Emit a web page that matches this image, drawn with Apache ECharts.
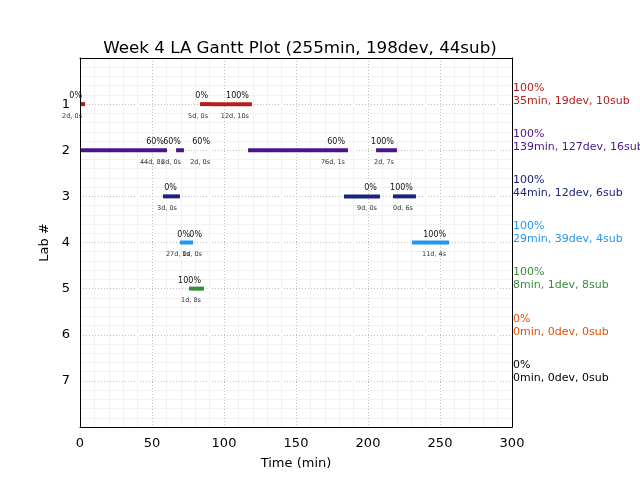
<!DOCTYPE html>
<html>
<head>
<meta charset="utf-8">
<script src="https://cdn.jsdelivr.net/npm/echarts@6/dist/echarts.min.js"></script>
<style>html,body{margin:0;padding:0;background:#fff}#c{width:640px;height:480px}</style>
</head>
<body>
<div id="c"></div>
<script>
// Data
var labs = [1, 2, 3, 4, 5, 6, 7];
var labColors = ['#b71c1c', '#4a148c', '#1a237e', '#2196f3', '#388e3c', '#e65100', '#000000'];
var labPct = ['100%', '100%', '100%', '100%', '100%', '0%', '0%'];
var labSummary = ['35min, 19dev, 10sub', '139min, 127dev, 16sub', '44min, 12dev, 6sub',
                  '29min, 39dev, 4sub', '8min, 1dev, 8sub', '0min, 0dev, 0sub', '0min, 0dev, 0sub'];
// segments: lab, start (min), end (min), percent label, duration label
var segLab   = [1, 1, 1, 2, 2, 2, 2, 2, 3, 3, 3, 4, 4, 4, 5];
var segStart = [0, 83.3, 91, 0, 66.7, 92.4, 116.7, 205.6, 57.6, 183.3, 217.4, 69.4, 86.8, 230.6, 75.7];
var segEnd   = [3.5, 91, 119.4, 60.4, 72.2, 92.4, 186.1, 220.1, 69.4, 208.3, 233.3, 78.5, 86.8, 256.3, 86.1];
var segPct   = ['0%', '0%', '100%', '60%', '60%', '60%', '60%', '100%', '0%', '0%', '100%', '0%', '0%', '100%', '100%'];
var segDur   = ['2d, 0s', '5d, 0s', '12d, 10s', '44d, 8s', '3d, 0s', '2d, 0s', '76d, 1s', '2d, 7s',
                '3d, 0s', '9d, 0s', '0d, 6s', '27d, 0s', '1d, 0s', '11d, 4s', '1d, 8s'];
var xTicks = [0, 50, 100, 150, 200, 250, 300];

var FONT = 'DejaVu Sans';
var GRID_C = '#c0c0c0';
var MINOR_C = '#f2f2f2';
var segData = segLab.map(function (l, i) { return [segStart[i], segEnd[i], l, i]; });
var labData = labs.map(function (l, i) { return [300, l, i]; });

var chart = echarts.init(document.getElementById('c'));
chart.setOption({
  animation: false,
  title: {
    text: 'Week 4 LA Gantt Plot (255min, 198dev, 44sub)',
    left: 295, top: 35, textAlign: 'center',
    textStyle: { fontFamily: FONT, fontSize: 16.7, fontWeight: 'normal', color: '#000' }
  },
  grid: { left: 80, right: 128, top: 58, bottom: 53, show: false },
  xAxis: [{
    type: 'value', min: xTicks[0], max: xTicks[xTicks.length - 1], interval: 50,
    name: 'Time (min)', nameLocation: 'middle', nameGap: 30,
    nameTextStyle: { fontFamily: FONT, fontSize: 13, color: '#000' },
    axisLine: { show: false },
    axisTick: { show: false },
    axisLabel: { fontFamily: FONT, fontSize: 13, color: '#000', margin: 10 },
    splitLine: { show: true, lineStyle: { color: GRID_C, type: [1, 2] } },
    minorTick: { show: false, splitNumber: 5 },
    minorSplitLine: { show: true, lineStyle: { color: MINOR_C, width: 1 } }
  }, {
    type: 'value', min: 0, max: 300, position: 'top', z: 10,
    axisLine: { show: true, onZero: false, lineStyle: { color: '#000' } },
    axisTick: { show: false }, axisLabel: { show: false }, splitLine: { show: false }
  }, {
    type: 'value', min: 0, max: 300, position: 'bottom', z: 10,
    axisLine: { show: true, onZero: false, lineStyle: { color: '#000' } },
    axisTick: { show: false }, axisLabel: { show: false }, splitLine: { show: false }
  }],
  yAxis: [{
    type: 'value', min: 0, max: 8, interval: 1, inverse: true,
    name: 'Lab #', nameLocation: 'middle', nameGap: 26, nameRotate: 90,
    nameTextStyle: { fontFamily: FONT, fontSize: 13, color: '#000' },
    axisLine: { show: false },
    axisTick: { show: false },
    axisLabel: {
      fontFamily: FONT, fontSize: 13, color: '#000', margin: 10,
      formatter: function (v) { return labs.indexOf(v) >= 0 ? String(v) : ''; }
    },
    splitLine: { show: true, lineStyle: { color: GRID_C, type: [1, 2] } },
    minorTick: { show: false, splitNumber: 5 },
    minorSplitLine: { show: true, lineStyle: { color: MINOR_C, width: 1 } }
  }, {
    type: 'value', min: 0, max: 8, inverse: true, position: 'left', z: 10,
    axisLine: { show: true, onZero: false, lineStyle: { color: '#000' } },
    axisTick: { show: false }, axisLabel: { show: false }, splitLine: { show: false }
  }, {
    type: 'value', min: 0, max: 8, inverse: true, position: 'right', z: 10,
    axisLine: { show: true, onZero: false, lineStyle: { color: '#000' } },
    axisTick: { show: false }, axisLabel: { show: false }, splitLine: { show: false }
  }],
  series: [
    {
      type: 'custom',
      clip: false,
      data: segData,
      encode: { x: [0, 1], y: 2 },
      renderItem: function (params, api) {
        var i = api.value(3);
        var lab = api.value(2);
        var p0 = api.coord([api.value(0), lab]);
        var p1 = api.coord([api.value(1), lab]);
        var h = 4;
        var col = labColors[lab - 1];
        var children = [];
        if (p1[0] - p0[0] > 0) {
          children.push({ type: 'rect', shape: { x: p0[0], y: p0[1] - h / 2, width: p1[0] - p0[0], height: h }, style: { fill: col } });
        }
        children.push({ type: 'text', style: { text: segPct[i], x: p1[0] - 3, y: p1[1] - 8, align: 'right', verticalAlign: 'middle', font: '8px "DejaVu Sans"', fill: '#111' } });
        children.push({ type: 'text', style: { text: segDur[i], x: p1[0] - 3, y: p1[1] + 12, align: 'right', verticalAlign: 'middle', font: '6.5px "DejaVu Sans"', fill: '#333' } });
        return { type: 'group', children: children };
      }
    },
    {
      type: 'custom',
      clip: false,
      data: labData,
      encode: { x: 0, y: 1 },
      renderItem: function (params, api) {
        var i = api.value(2);
        var p = api.coord([api.value(0), api.value(1)]);
        var col = labColors[i];
        return {
          type: 'group',
          children: [
            { type: 'text', style: { text: labPct[i], x: p[0] + 1, y: p[1] - 16, align: 'left', verticalAlign: 'middle', font: '11px "DejaVu Sans"', fill: col } },
            { type: 'text', style: { text: labSummary[i], x: p[0] + 1, y: p[1] - 3, align: 'left', verticalAlign: 'middle', font: '11px "DejaVu Sans"', fill: col } }
          ]
        };
      }
    }
  ]
});
</script>
</body>
</html>
